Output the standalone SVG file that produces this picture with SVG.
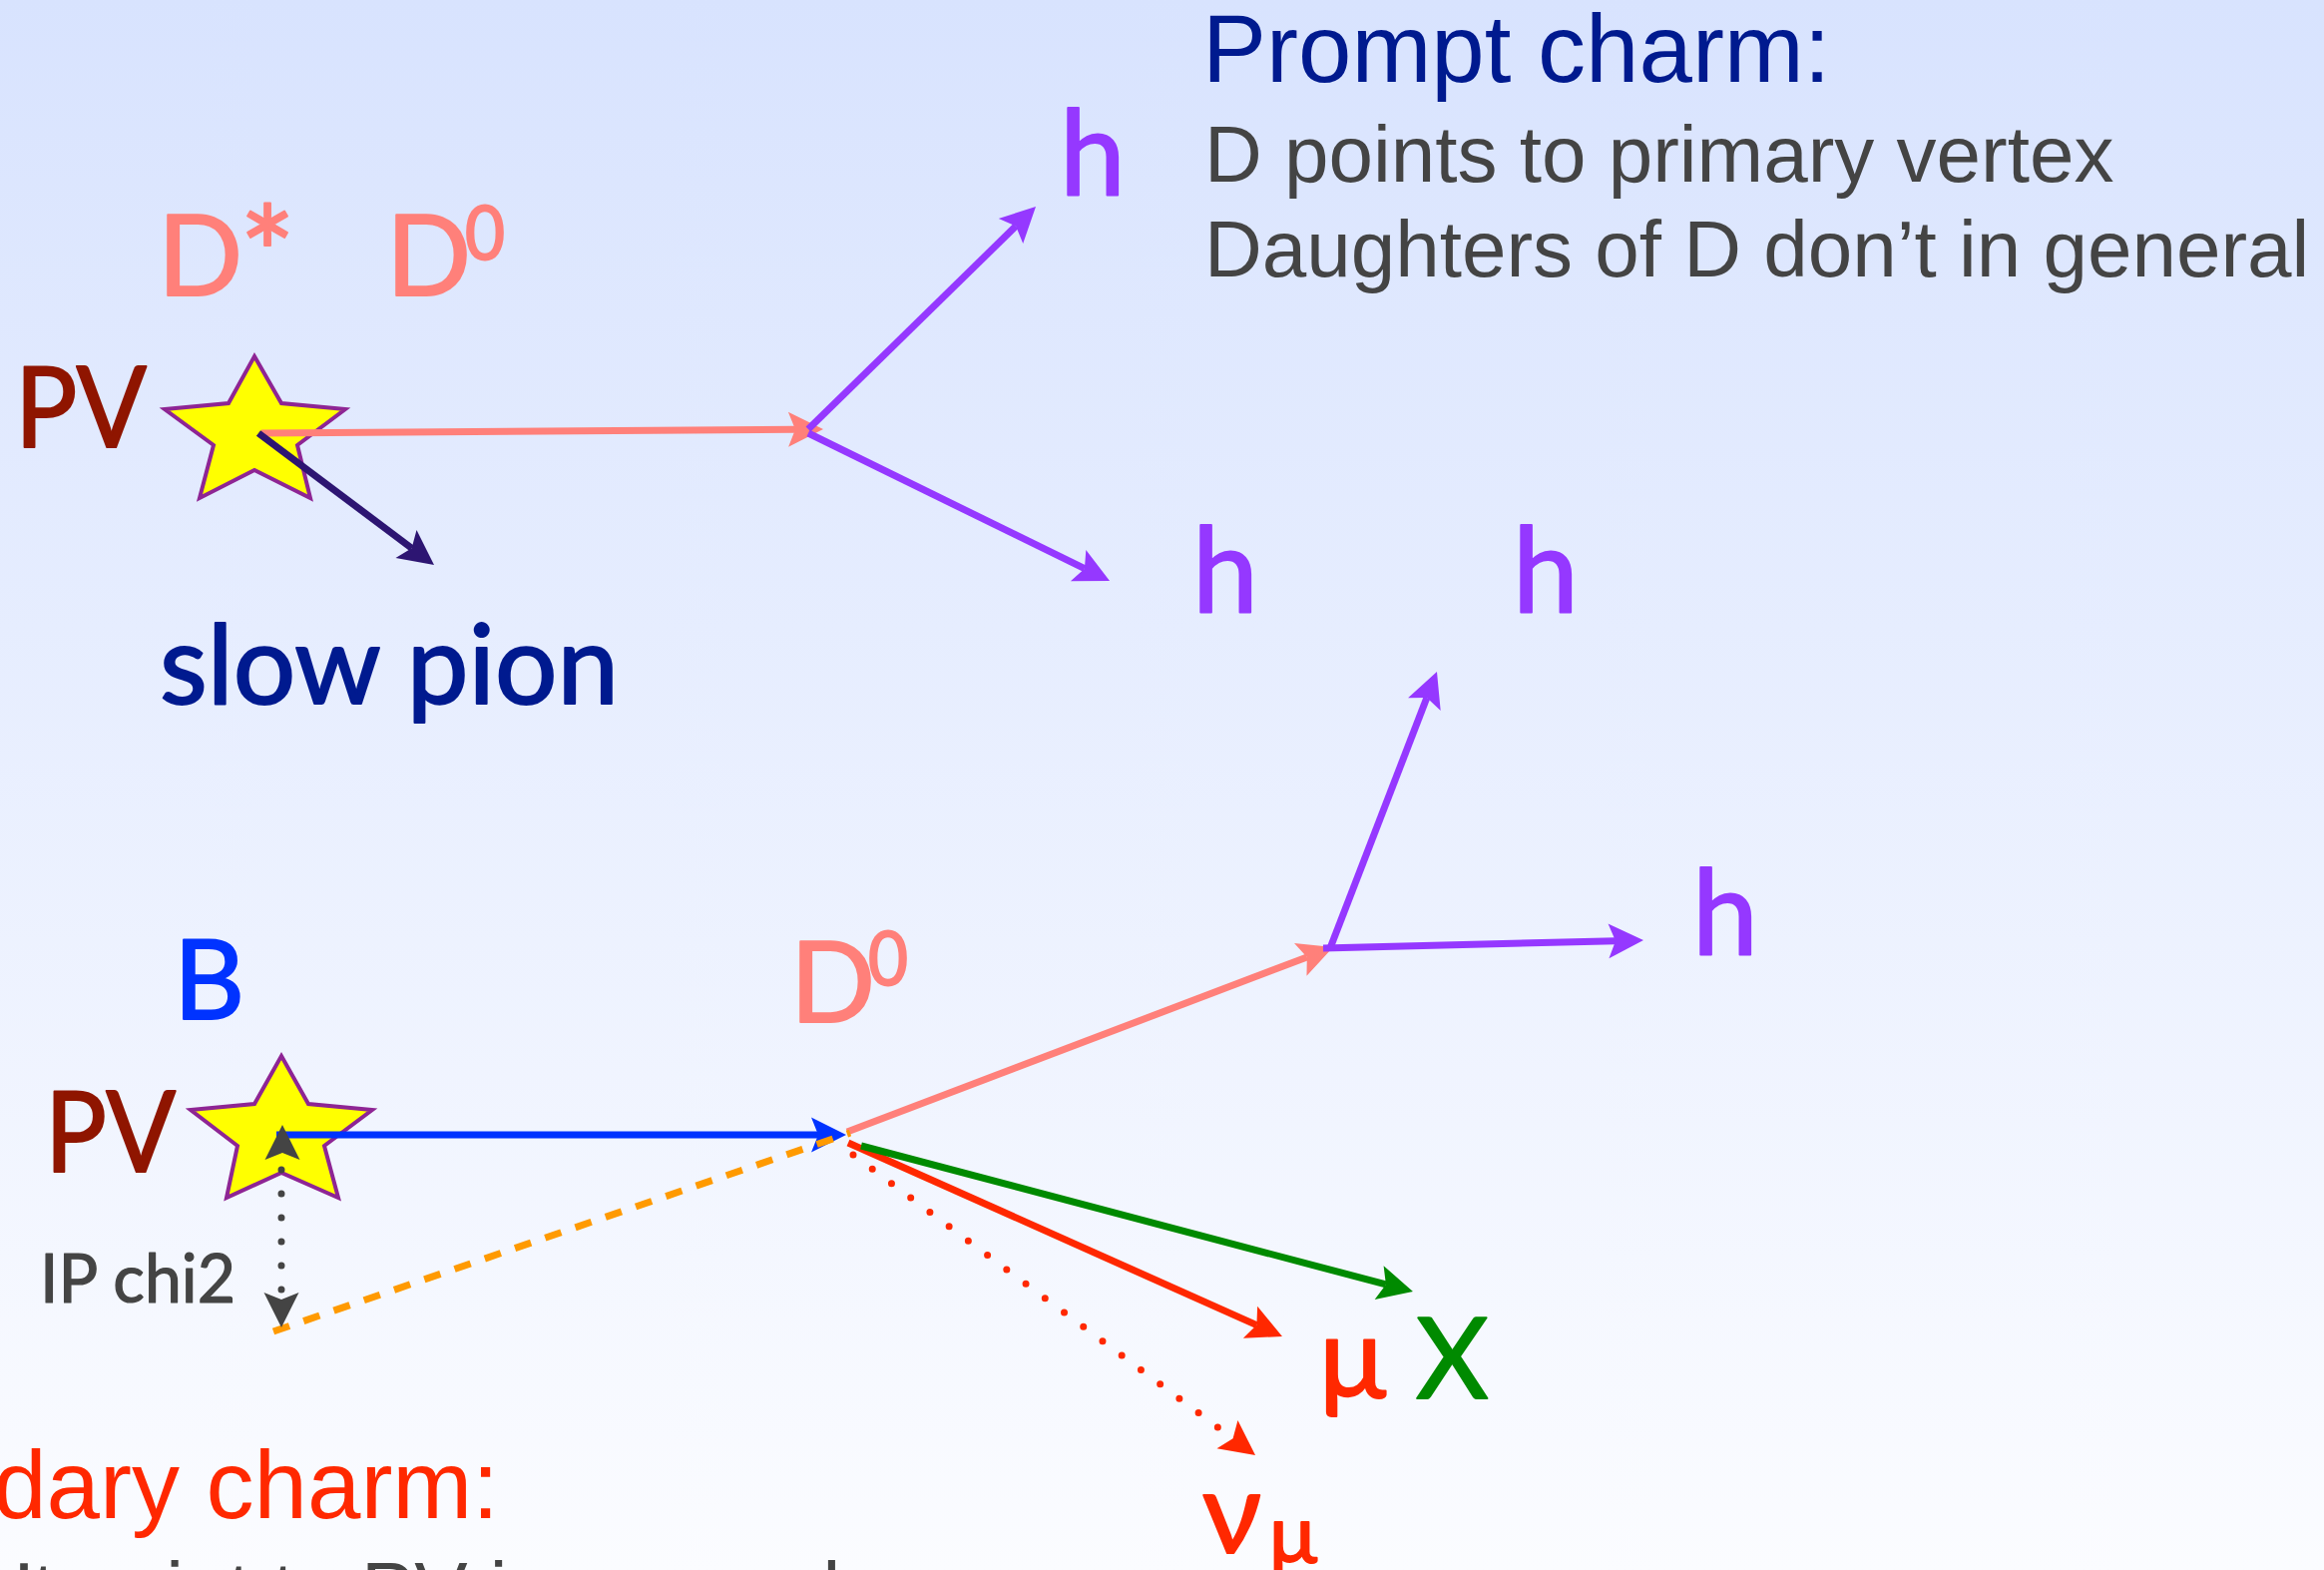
<svg xmlns="http://www.w3.org/2000/svg" width="2329" height="1573" viewBox="0 0 2329 1573">
<defs>
<linearGradient id="bg" x1="0" y1="0" x2="0" y2="1">
<stop offset="0" stop-color="#D8E3FE"/>
<stop offset="1" stop-color="#FBFCFF"/>
</linearGradient>
<path id="ah" d="M28,0 L-7,-17.5 L0,0 L-7,17.5 Z"/>
<marker id="mPink" markerUnits="userSpaceOnUse" markerWidth="80" markerHeight="80" refX="0" refY="0" orient="auto" overflow="visible"><use href="#ah" fill="#FF807A"/></marker>
<marker id="mPurple" markerUnits="userSpaceOnUse" markerWidth="80" markerHeight="80" refX="0" refY="0" orient="auto" overflow="visible"><use href="#ah" fill="#9538FF"/></marker>
<marker id="mNavy" markerUnits="userSpaceOnUse" markerWidth="80" markerHeight="80" refX="0" refY="0" orient="auto" overflow="visible"><use href="#ah" fill="#2D1572"/></marker>
<marker id="mBlue" markerUnits="userSpaceOnUse" markerWidth="80" markerHeight="80" refX="0" refY="0" orient="auto" overflow="visible"><use href="#ah" fill="#0033FF"/></marker>
<marker id="mGreen" markerUnits="userSpaceOnUse" markerWidth="80" markerHeight="80" refX="0" refY="0" orient="auto" overflow="visible"><use href="#ah" fill="#008A00"/></marker>
<marker id="mRed" markerUnits="userSpaceOnUse" markerWidth="80" markerHeight="80" refX="0" refY="0" orient="auto" overflow="visible"><use href="#ah" fill="#FF2800"/></marker>
</defs>
<style>
.lbl{font-family:Lato,"Open Sans","DejaVu Sans",sans-serif;stroke-width:2;stroke-linejoin:round;}
.txt{font-family:"Liberation Sans",Arial,sans-serif;}
.star{fill:#FFFF00;stroke:#8E2594;stroke-width:4;stroke-linejoin:miter;}
.ln{fill:none;stroke-width:7;stroke-linecap:butt;}
.pink{stroke:#FF807A;}
.purple{stroke:#9538FF;}
.dots{fill:none;stroke-width:7;stroke-linecap:round;stroke-dasharray:0 24;}
.cPink{fill:#FF807A;stroke:#FF807A;}
.cPurple{fill:#9538FF;stroke:#9538FF;}
.cPV{fill:#8F1500;stroke:#8F1500;}
.cNavy{fill:#001A8F;stroke:#001A8F;}
.cBlue{fill:#0033FF;stroke:#0033FF;}
.cRed{fill:#FF2800;stroke:#FF2800;}
.cGreen{fill:#008A00;stroke:#008A00;}
.cGray{fill:#444444;stroke:#444444;}
</style>
<rect x="0" y="0" width="2329" height="1573" fill="url(#bg)"/>

<g id="pv-top">
<polygon class="star" points="255,357 282,404 346,410 298,446 311,499 255,471 200,499 214,446 165,410 229,404"/>
</g>
<g id="pv-bottom">
<polygon class="star" points="282,1058 309,1106 373,1112 325,1148 339,1200 282,1175 227,1200 238,1148 191,1112 255,1106"/>
</g>

<g id="connectors">
<path class="ln pink" d="M262,434 L797,430.2" marker-end="url(#mPink)"/>
<path class="ln" stroke="#2D1572" d="M259,434 L412.6,549.2" marker-end="url(#mNavy)"/>
<path class="ln purple" d="M810,430 L1018,226.6" marker-end="url(#mPurple)"/>
<path class="ln purple" d="M810,434 L1086.9,569.7" marker-end="url(#mPurple)"/>
<path class="ln" stroke="#0033FF" d="M277,1137 L820,1137" marker-end="url(#mBlue)"/>
<path class="ln pink" d="M849,1134 L1309.8,958.9" marker-end="url(#mPink)"/>
<path class="ln purple" d="M1333,950 L1429.9,699.1" marker-end="url(#mPurple)"/>
<path class="ln purple" d="M1326,950 L1619,942.7" marker-end="url(#mPurple)"/>
<path class="ln" stroke="#FF9A00" stroke-dasharray="17 15" d="M274,1334 L852,1135"/>
<path class="ln" stroke="#FF2800" stroke-width="7.5" d="M850,1145 L1259.4,1327.6" marker-end="url(#mRed)"/>
<path class="dots" stroke="#FF2800" d="M855,1157 L1235.6,1441.3" marker-end="url(#mRed)"/>
<path class="ln" stroke="#008A00" stroke-width="7.5" d="M863,1148 L1388.9,1286.9" marker-end="url(#mGreen)"/>
<path class="dots" stroke="#444444" stroke-dasharray="0 24.2" d="M282,1172 L282,1294"/>
<use href="#ah" fill="#444444" transform="translate(283,1155) rotate(-90)"/>
<use href="#ah" fill="#444444" transform="translate(282,1302) rotate(90)"/>
</g>

<g id="labels-top" class="lbl">
<text class="cPink" x="158" y="296" font-size="112">D</text>
<text class="cPink" x="240" y="303" font-size="132">*</text>
<text class="cPink" x="387" y="296" font-size="112">D</text>
<text class="cPink" x="466" y="260" font-size="76" textLength="40" lengthAdjust="spacingAndGlyphs">0</text>
<text class="cPV" x="15" y="448" font-size="113" textLength="132" lengthAdjust="spacingAndGlyphs">PV</text>
<text class="cNavy" x="160" y="705" font-size="110" textLength="460" lengthAdjust="spacingAndGlyphs">slow pion</text>
<text class="cPurple" x="1062" y="195" font-size="118">h</text>
<text class="cPurple" x="1195" y="613" font-size="118">h</text>
<text class="cPurple" x="1516" y="613" font-size="118">h</text>
</g>

<g id="labels-bottom" class="lbl">
<text class="cBlue" x="174" y="1021" font-size="110">B</text>
<text class="cPV" x="45" y="1174" font-size="113" textLength="131" lengthAdjust="spacingAndGlyphs">PV</text>
<text class="cPink" x="792" y="1024" font-size="112">D</text>
<text class="cPink" x="870" y="987" font-size="76" textLength="40" lengthAdjust="spacingAndGlyphs">0</text>
<text class="cPurple" x="1696" y="956" font-size="118">h</text>
<text class="cGray" x="40" y="1305" font-size="68" stroke-width="1.2" textLength="196" lengthAdjust="spacingAndGlyphs">IP chi2</text>
<text class="cRed" x="1322" y="1400" font-size="112">μ</text>
<text class="cGreen" x="1419" y="1401" font-size="112">X</text>
<text class="cRed" x="1205" y="1556" font-size="115">ν</text>
<text class="cRed" x="1272" y="1565" font-size="80">μ</text>
</g>

<g id="text-prompt" class="txt">
<text x="1205" y="82" font-size="96" fill="#001A8F">Prompt charm:</text>
<text x="1207" y="182" font-size="80" fill="#444444">D points to primary vertex</text>
<text x="1207" y="277" font-size="80" fill="#444444">Daughters of D don’t in general</text>
</g>

<g id="text-secondary" class="txt">
<text x="500" y="1521" font-size="96" fill="#FF2800" text-anchor="end">dary charm:</text>
<text x="15" y="1621" font-size="80" fill="#444444">’t point to PV in general</text>
</g>
</svg>
